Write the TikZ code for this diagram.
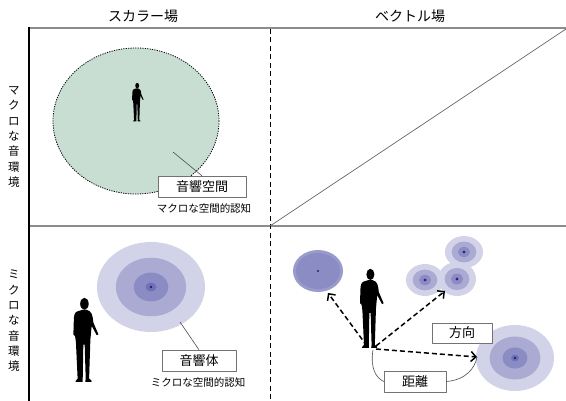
\documentclass[tikz,border=0pt]{standalone}
\usepackage{fontspec}
\setmainfont{Noto Sans CJK JP}
\usepackage{xcolor}
\usetikzlibrary{arrows.meta}

\definecolor{spacegreen}{RGB}{200,222,210}
\definecolor{ringA}{RGB}{210,210,232}
\definecolor{ringB}{RGB}{170,170,210}
\definecolor{ringC}{RGB}{140,140,196}
\definecolor{ringD}{RGB}{112,112,182}
\definecolor{ringdot}{RGB}{30,30,130}

% layered sound source: centre, x radius, y radius
\newcommand{\soundsrc}[3]{%
  \fill[ringA] #1 ellipse ({#2} and {#3});
  \fill[ringB] #1 ellipse ({0.65*#2} and {0.65*#3});
  \fill[ringC] #1 ellipse ({0.32*#2} and {0.32*#3});
  \fill[ringD] #1 ellipse ({0.1*#2} and {0.1*#3});
  \fill[ringdot] #1 circle (1.3);
}

\tikzset{
  person/.pic={
    \begin{scope}[yscale=-1]
      \fill (0.5,92) ellipse (5 and 7);
      \fill (-1.5,85) -- (-8,83) .. controls (-11,82) and (-12,78) .. (-12,72)
        -- (-12.5,56) -- (-10.5,54) -- (-9.5,47) -- (-7.5,4) -- (-10,1) -- (-10,0)
        -- (-1.5,0) -- (-1.5,4) -- (-0.8,44) -- (0.8,44) -- (2,4) -- (1.5,0)
        -- (9,0) -- (8.5,2) -- (6,4) -- (7.5,50) -- (9,66) -- (15,55) -- (17,56)
        -- (11,70) .. controls (10,80) and (9,83) .. (3,85) -- cycle;
    \end{scope}
  },
  labelbox/.style={draw=black!55,fill=white,inner sep=0pt,font=\fontsize{13}{15}\selectfont},
  caption/.style={font=\fontsize{10.5}{12}\selectfont},
  header/.style={font=\fontsize{14}{16}\selectfont},
  sidelabel/.style={align=center,font=\fontsize{11.5}{15.3}\selectfont},
  vecarrow/.style={-{Straight Barb[length=5pt,width=10pt,line width=1.5pt]},
    line width=1.5pt,dash pattern=on 5pt off 3pt},
  leader/.style={black!70,line width=0.6pt}
}

\begin{document}
\begin{tikzpicture}[x=1pt,y=-1pt,line join=round]
  \useasboundingbox (0,0) rectangle (566,401);

  % frame
  \draw[black!45,line width=1.7pt] (29,28) -- (566,28);
  \draw[black!45,line width=1.4pt] (29,226) -- (566,226);
  \draw[line width=1.7pt] (29,27.2) -- (29,401);
  \draw[line width=0.9pt,dash pattern=on 5pt off 3.5pt] (270,29) -- (270,401);
  \draw[black!60,line width=0.7pt] (270,226) -- (566,29);

  % headers
  \node[header] (hscalar) at (143,16) {スカラー場};
  \node[header] (hvector) at (410,16) {ベクトル場};
  \node[sidelabel] (vmacro) at (14,137) {マ\\ク\\ロ\\な\\音\\環\\境};
  \node[sidelabel] (vmicro) at (14,321) {ミ\\ク\\ロ\\な\\音\\環\\境};

  % macro / scalar
  \draw[fill=spacegreen,line width=0.8pt,dash pattern=on 1.2pt off 1.2pt]
    (136,121) ellipse (83 and 73);
  \pic[scale=0.39] at (137,121.5) {person};
  \coordinate (leadA) at (173,152);
  \node[labelbox,minimum width=88pt,minimum height=21pt] (space) at (202,186.5) {音響空間};
  \draw[leader] (leadA) -- (space.north);
  \node[caption] (capA) at (204,208) {マクロな空間的認知};

  % micro / scalar
  \soundsrc{(151,287)}{54}{45}
  \pic[scale=0.85] at (84,382) {person};
  \coordinate (leadB) at (180,322);
  \node[labelbox,minimum width=74pt,minimum height=21pt] (body) at (199,360.5) {音響体};
  \draw[leader] (leadB) -- (body.north);
  \node[caption] (capB) at (198,382) {ミクロな空間的認知};

  % micro / vector
  \fill[ringC!80!ringA] (318,271) ellipse (25 and 21);
  \fill[ringC] (318,271) ellipse (22 and 18);
  \fill[ringdot] (318,271) circle (1.2);
  \soundsrc{(464,252)}{19}{16}
  \soundsrc{(425,280)}{19}{16}
  \soundsrc{(457,279)}{19}{17}
  \soundsrc{(515,358)}{39}{33}
  \pic[scale=0.8] at (370,348) {person};

  \coordinate (footL) at (367,346);
  \coordinate (footR) at (376,346);
  \coordinate (footM) at (376,349);
  \coordinate (toSolo) at (328,293);
  \coordinate (toGroup) at (445,291);
  \coordinate (toNear) at (477,357);
  \draw[vecarrow] (footL) -- (toSolo);
  \draw[vecarrow] (footR) -- (toGroup);
  \draw[vecarrow] (footM) -- (toNear);

  \node[labelbox,minimum width=60pt,minimum height=20pt] (dir) at (462,333) {方向};
  \node[labelbox,minimum width=62pt,minimum height=21pt] (dist) at (415,381.5) {距離};
  \draw[leader] (373,350) .. controls (370,368) and (376,378) .. (dist.west);
  \draw[leader] (dist.east) .. controls (466,380) and (475,368) .. (toNear);
\end{tikzpicture}
\end{document}
